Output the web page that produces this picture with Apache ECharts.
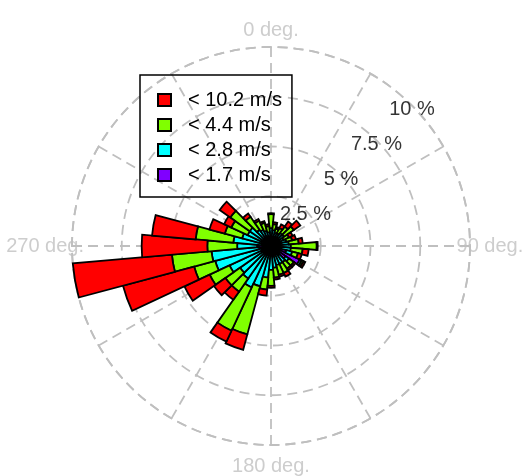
<!DOCTYPE html>
<html><head><meta charset="utf-8">
<script src="https://cdn.jsdelivr.net/npm/echarts@6/dist/echarts.min.js"></script>
<style>html,body{margin:0;padding:0;background:#fff}#c{width:523px;height:476px}</style>
</head><body><div id="c"></div>
<script>
const directions = [0,10,20,30,40,50,60,70,80,90,100,110,120,130,140,150,160,170,180,190,200,210,220,230,240,250,260,270,280,290,300,310,320,330,340,350];
const speedClasses = ['< 1.7 m/s','< 2.8 m/s','< 4.4 m/s','< 10.2 m/s'];
const speedColors = ['#8000ff','#00ffff','#80ff00','#ff0000'];
// frequency (%) contributed by each speed class per direction (stacked outward)
const below17 = [0.3,0.3,0.3,0.3,0.3,0.3,0.3,0.4,0.4,0.4,0.5,0.8,1.6,0.9,0.6,0.5,0.4,0.4,0.4,0.4,0.4,0.4,0.4,0.4,0.4,0.5,0.6,0.7,0.5,0.4,0.4,0.4,0.3,0.3,0.3,0.3];
const below28 = [0.6,0.5,0.4,0.4,0.5,0.5,0.4,0.4,0.5,0.6,0.5,0.3,0.1,0.2,0.4,0.5,0.6,0.7,0.8,1.2,1.7,1.9,1.6,1.5,1.9,2.4,2.4,1.0,1.4,1.1,0.9,0.9,0.7,0.6,0.5,0.4];
const below44 = [0.7,0.3,0.2,0.3,0.4,0.6,0.3,0.3,0.5,1.3,0.6,0.3,0.1,0.3,0.4,0.5,0.5,0.5,0.8,0.6,2.5,2.4,0.8,0.9,1.1,1.1,2.0,1.5,1.9,0.9,0.9,1.2,0.8,0.5,0.4,0.3];
const below102 = [0.05,0.1,0.1,0.2,0.3,0.4,0.2,0.2,0.2,0.05,0.3,0.2,0.1,0.1,0.1,0.2,0.1,0.1,0.1,0.3,0.8,0.6,0.5,0.7,1.4,3.7,5.0,3.3,2.2,0.8,0.4,0.65,0.2,0.1,0.1,0.1];
const radiusTicks = [2.5,5,7.5,10];
const tickLabels = ['2.5 %','5 %','7.5 %','10 %'];
const degreeAngles = [0,90,180,270];
const degreeLabels = ['0 deg.','90 deg.','180 deg.','270 deg.'];

const classValues = [below17, below28, below44, below102];
const gridColor = '#bfbfbf';
const FONT = 'Liberation Sans, Arial, sans-serif';
const center = [271, 246];
const R = 199;
const tickLabelAngle = 45.5;    // compass direction of the % labels
const degreeLabelRadius = 11.0; // where the direction captions sit, in axis units
const degreeLabelOffsets = [[0, 3], [0, 0], [0, 2], [-7, 0]];

const chart = echarts.init(document.getElementById('c'), null, {renderer:'canvas'});
const series = speedClasses.map((name, i) => ({
  name: name,
  type: 'bar',
  coordinateSystem: 'polar',
  polarIndex: 0,
  stack: 'wind',
  barCategoryGap: '0%',
  data: classValues[i],
  itemStyle: {color: speedColors[i], borderColor: '#000', borderWidth: 1.8},
  z: 3,
  animation: false
}));
series.push({
  type: 'scatter',
  coordinateSystem: 'polar',
  polarIndex: 1,
  symbolSize: 0,
  clip: false,
  data: radiusTicks.map((r) => [r, tickLabelAngle]),
  label: {
    show: true, position: 'inside', offset: [-1, 3],
    formatter: (p) => tickLabels[p.dataIndex],
    color: '#000', fontSize: 20, fontFamily: FONT
  },
  z: 5, silent: true, animation: false
});
series.push({
  type: 'scatter',
  coordinateSystem: 'polar',
  polarIndex: 1,
  symbolSize: 0,
  clip: false,
  data: degreeAngles.map((a, i) => ({value: [degreeLabelRadius, a], label: {offset: degreeLabelOffsets[i]}})),
  label: {
    show: true, position: 'inside',
    formatter: (p) => degreeLabels[p.dataIndex],
    color: '#c0c0c0', fontSize: 20, fontFamily: FONT
  },
  z: 5, silent: true, animation: false
});

chart.setOption({
  backgroundColor: '#fff',
  animation: false,
  polar: [
    {center: center, radius: R},
    {center: center, radius: R}
  ],
  angleAxis: [
    {polarIndex: 0, type: 'category', data: directions, startAngle: 95, clockwise: true,
     boundaryGap: true, show: false},
    {polarIndex: 1, type: 'value', min: 0, max: 360, interval: 30, startAngle: 90, clockwise: true,
     axisLine: {show: true, lineStyle: {color: gridColor, type: [10, 6], width: 1.8}},
     axisTick: {show: false},
     axisLabel: {show: false},
     splitLine: {show: true, lineStyle: {color: gridColor, type: [10, 6], width: 1.8}},
     z: 1}
  ],
  radiusAxis: [
    {polarIndex: 0, type: 'value', min: 0, max: 10, show: false},
    {polarIndex: 1, type: 'value', min: 0, max: 10, interval: 2.5,
     axisLine: {show: false}, axisTick: {show: false}, axisLabel: {show: false},
     splitLine: {show: true, lineStyle: {color: gridColor, type: [10, 6], width: 1.8}},
     z: 1}
  ],
  legend: {
    orient: 'vertical', left: 140, top: 75,
    data: ['< 10.2 m/s','< 4.4 m/s','< 2.8 m/s','< 1.7 m/s'],
    icon: 'rect', itemWidth: 13, itemHeight: 12, itemGap: 5,
    padding: [15, 10, 12, 17],
    borderColor: '#000', borderWidth: 1.5,
    textStyle: {color: '#000', fontSize: 20, fontFamily: FONT, lineHeight: 20, padding: [0, 0, 0, 12]}
  },
  series: series
});
</script>
</body></html>
